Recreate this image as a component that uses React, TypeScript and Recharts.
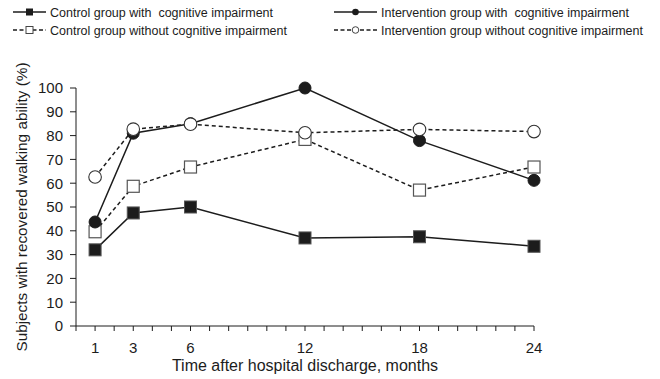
import { LineChart, Line, XAxis, YAxis } from "recharts"

const months = [1, 3, 6, 12, 18, 24]
const controlWithCI = [32, 47.5, 50, 37, 37.5, 33.5]
const controlWithoutCI = [39.6, 58.7, 66.8, 78.4, 57.1, 66.8]
const interventionWithCI = [43.7, 81, 85, 100, 77.9, 61.2]
const interventionWithoutCI = [62.6, 82.7, 84.8, 81.2, 82.6, 81.7]

const xTickLabels = [1, 3, 6, 12, 18, 24]
const yTicks = [0, 10, 20, 30, 40, 50, 60, 70, 80, 90, 100]
const monthTicks = Array.from({ length: 25 }, (_, i) => i)

const legendItems = [
  { label: "Control group with  cognitive impairment", marker: "filledSquare", dashed: false },
  { label: "Intervention group with  cognitive impairment", marker: "filledCircle", dashed: false },
  { label: "Control group without cognitive impairment", marker: "openSquare", dashed: true },
  { label: "Intervention group without cognitive impairment", marker: "openCircle", dashed: true },
]

const data = months.map((m, i) => ({
  month: m,
  cw: controlWithCI[i],
  cwo: controlWithoutCI[i],
  iw: interventionWithCI[i],
  iwo: interventionWithoutCI[i],
}))

const ink = "#1c1c1c"
const font = "'Liberation Sans', Arial, sans-serif"

const FilledSquare = (props: any) => {
  const { cx, cy } = props
  return <rect key={props.key} x={cx - 6} y={cy - 6} width={12} height={12} fill={ink} stroke="#555" strokeWidth={1} />
}
const OpenSquare = (props: any) => {
  const { cx, cy } = props
  return <rect key={props.key} x={cx - 6} y={cy - 6} width={12} height={12} fill="#fff" stroke="#555" strokeWidth={1.2} />
}
const FilledCircle = (props: any) => {
  const { cx, cy } = props
  return <circle key={props.key} cx={cx} cy={cy} r={6} fill={ink} stroke={ink} />
}
const OpenCircle = (props: any) => {
  const { cx, cy } = props
  return <circle key={props.key} cx={cx} cy={cy} r={6.3} fill="#fff" stroke="#333" strokeWidth={1.1} />
}

function LegendMarker({ marker, x, y }: { marker: string; x: number; y: number }) {
  if (marker === "filledSquare") return <rect x={x - 3.5} y={y - 3.5} width={7} height={7} fill={ink} />
  if (marker === "openSquare") return <rect x={x - 3.5} y={y - 3.5} width={7} height={7} fill="#fff" stroke="#444" />
  if (marker === "filledCircle") return <circle cx={x} cy={y} r={3.3} fill={ink} />
  return <circle cx={x} cy={y} r={3.3} fill="#fff" stroke="#444" />
}

function TopLegend() {
  return (
    <svg width={660} height={40} style={{ position: "absolute", left: 0, top: 0 }}>
      {legendItems.map((item, i) => {
        const col = i % 2
        const row = Math.floor(i / 2)
        const x0 = col === 0 ? 13 : 334
        const x1 = col === 0 ? 46 : 377
        const y = 12 + row * 18
        return (
          <g key={i}>
            <line x1={x0} x2={x1} y1={y} y2={y} stroke={ink} strokeWidth={1.3} strokeDasharray={item.dashed ? "4 2.5" : undefined} />
            <LegendMarker marker={item.marker} x={(x0 + x1) / 2} y={y} />
            <text x={x1 + 4} y={y + 4.5} fontSize={12.5} fontFamily={font} fill={ink} style={{ whiteSpace: "pre" }}>
              {item.label}
            </text>
          </g>
        )
      })}
    </svg>
  )
}

export default function App() {
  return (
    <div style={{ position: "absolute", left: 0, top: 0, width: 660, height: 379, background: "#fff" }}>
      <LineChart width={660} height={379} data={data} margin={{ top: 88, right: 126, bottom: 8, left: 0 }}>
        <XAxis
          dataKey="month"
          type="number"
          domain={[0, 24]}
          ticks={monthTicks}
          interval={0}
          tickFormatter={(v: number) => (xTickLabels.includes(v) ? String(v) : "")}
          tick={{ fill: ink, fontSize: 15, fontFamily: font }}
          tickSize={5}
          tickMargin={11}
          height={45}
          stroke={ink}
          label={{ value: "Time after hospital discharge, months", position: "insideBottom", offset: 0, fill: ink, fontSize: 16, fontFamily: font }}
        />
        <YAxis
          type="number"
          domain={[0, 100]}
          ticks={yTicks}
          interval={0}
          width={76}
          tick={{ fill: ink, fontSize: 15, fontFamily: font }}
          tickSize={6}
          tickMargin={7}
          stroke={ink}
          label={{ value: "Subjects with recovered walking ability (%)", angle: -90, position: "insideLeft", offset: 0, dx: 22, style: { textAnchor: "middle" }, fill: ink, fontSize: 15.3, fontFamily: font }}
        />
        <Line dataKey="cw" stroke={ink} strokeWidth={1.5} dot={FilledSquare} isAnimationActive={false} />
        <Line dataKey="cwo" stroke={ink} strokeWidth={1.5} strokeDasharray="4 3" dot={OpenSquare} isAnimationActive={false} />
        <Line dataKey="iw" stroke={ink} strokeWidth={1.5} dot={FilledCircle} isAnimationActive={false} />
        <Line dataKey="iwo" stroke={ink} strokeWidth={1.5} strokeDasharray="4 3" dot={OpenCircle} isAnimationActive={false} />
      </LineChart>
      <TopLegend />
    </div>
  )
}
